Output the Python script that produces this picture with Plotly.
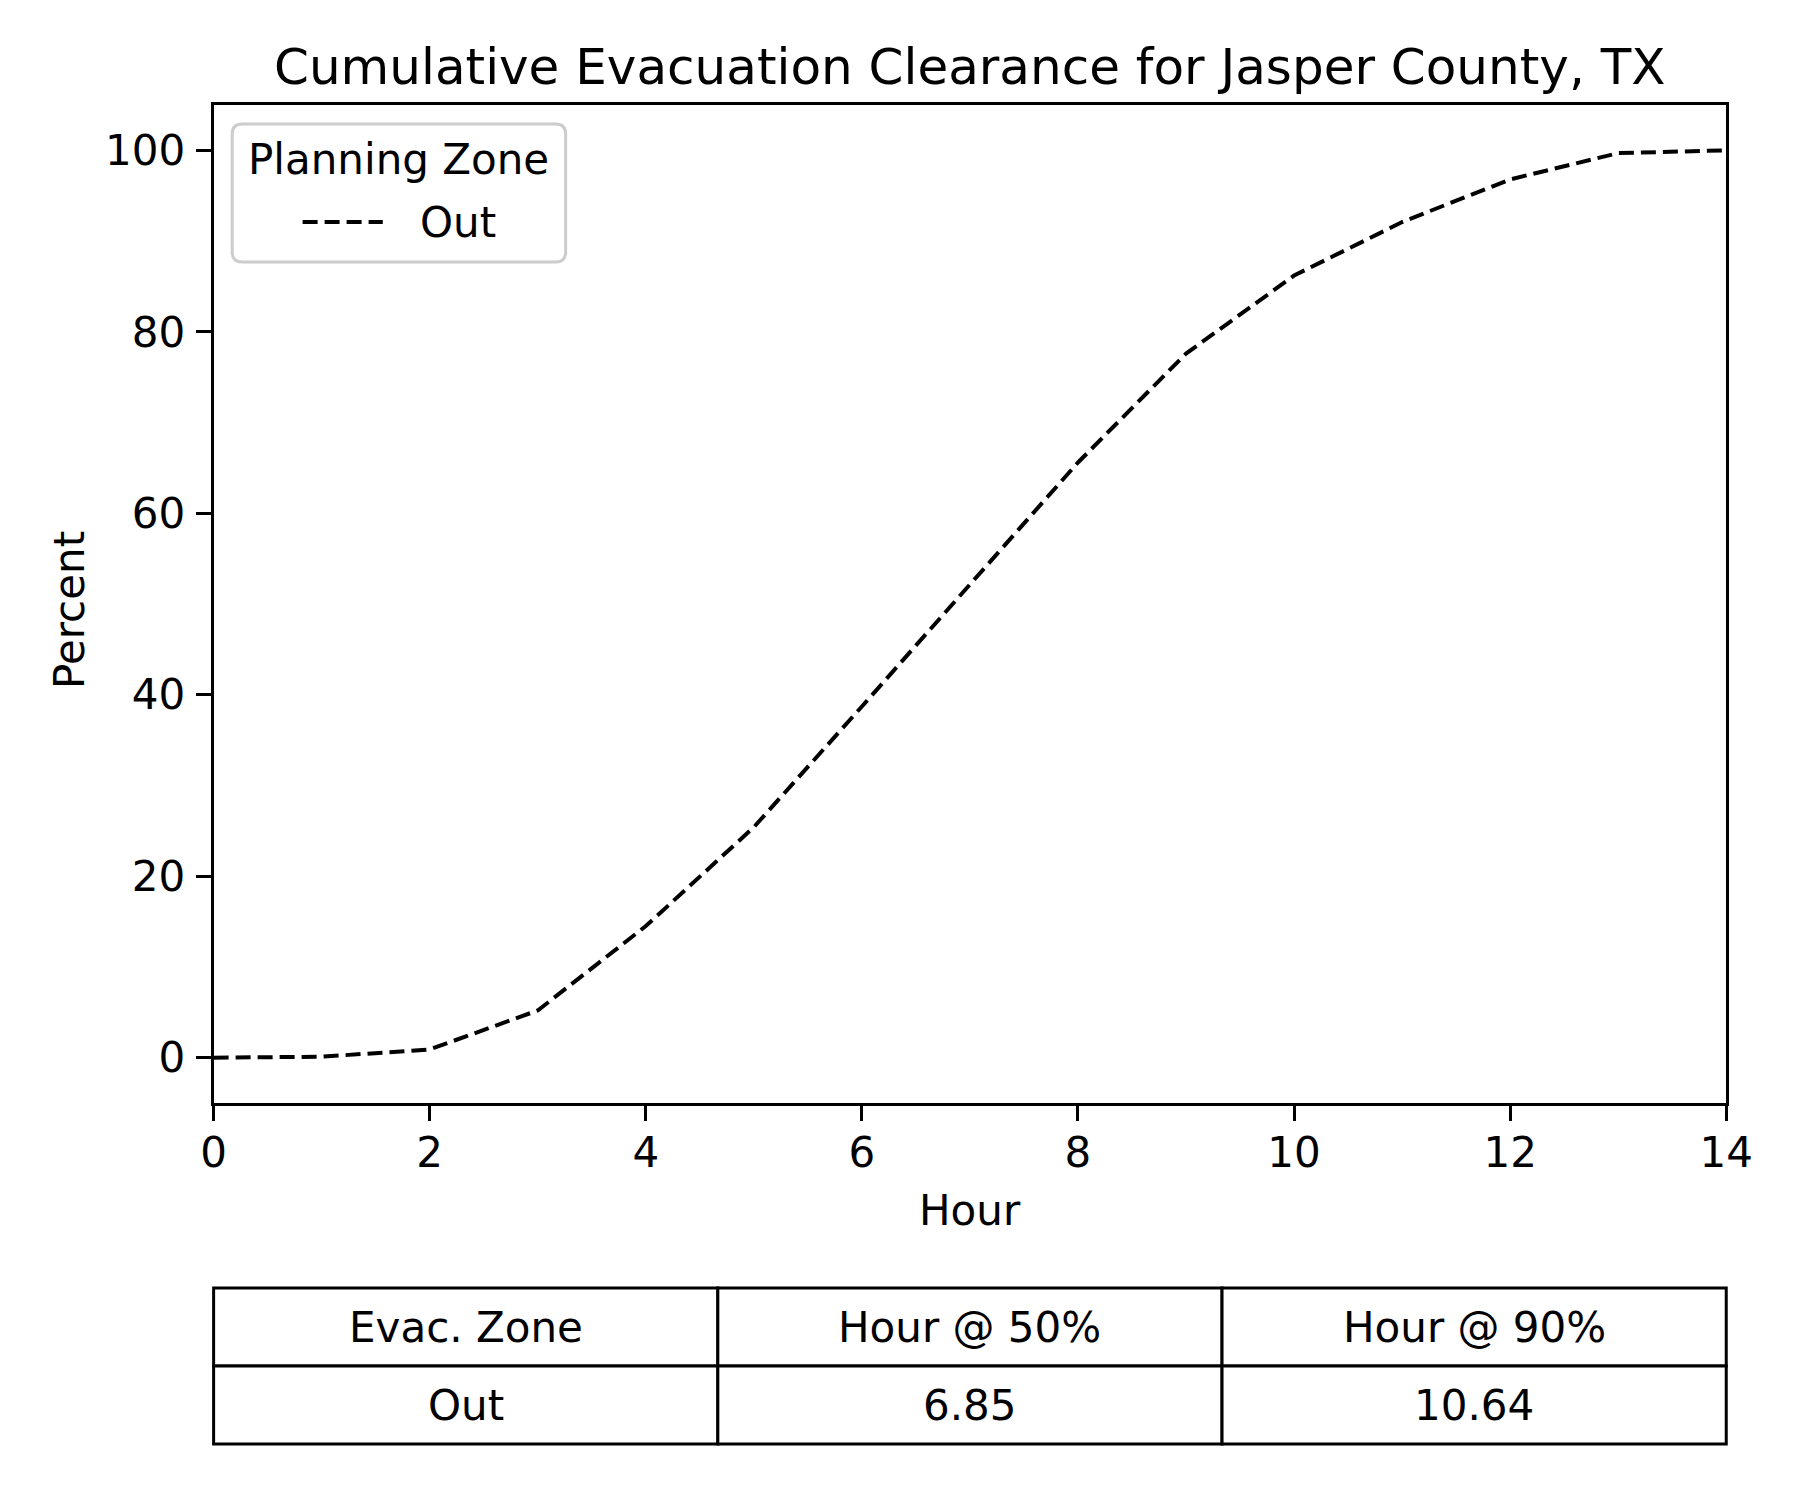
import plotly.graph_objects as go

W, H = 1800, 1500

# ---- data ----
hours = [0, 1, 2, 3, 4, 5, 6, 7, 8, 9, 10, 11, 12, 13, 14]
percent_out = [0, 0.1, 0.9, 5.2, 14.5, 25.4, 38.7, 52.1, 65.6, 77.6, 86.2, 92.1, 96.8, 99.7, 100]
series_name = "Out"
x_ticks = [0, 2, 4, 6, 8, 10, 12, 14]
y_ticks = [0, 20, 40, 60, 80, 100]
table_header = ["Evac. Zone", "Hour @ 50%", "Hour @ 90%"]
table_row = ["Out", "6.85", "10.64"]

title_text = "Cumulative Evacuation Clearance for Jasper County, TX"
FONT = "DejaVu Sans"


def px(x):
    return x / W


def py(y):
    return 1 - y / H


# axes box in pixels
AX_L, AX_R, AX_T, AX_B = 197, 1744, 97, 1095
# table box in pixels
TB_T, ROW_H = 1280, 78

fig = go.Figure()
fig.add_trace(go.Scatter(
    x=hours, y=percent_out, mode="lines", name=series_name,
    line=dict(color="black", width=4, dash="15px,7px"),
    showlegend=False,
))

axis_common = dict(
    showline=True, linecolor="black", linewidth=3, mirror=True,
    ticks="outside", ticklen=15, tickwidth=3, tickcolor="black",
    showgrid=False, zeroline=False,
    tickfont=dict(family=FONT, size=42, color="black"),
)

fig.update_layout(
    width=W, height=H,
    margin=dict(l=0, r=0, t=0, b=0),
    paper_bgcolor="white", plot_bgcolor="white",
    font=dict(family=FONT, color="black"),
    xaxis=dict(domain=[px(AX_L), px(AX_R)], range=[0, 14], tickvals=x_ticks,
               ticklabelstandoff=-4, **axis_common),
    yaxis=dict(domain=[py(AX_B), py(AX_T)], range=[-5, 105], tickvals=y_ticks,
               ticklabelstandoff=2, **axis_common),
    showlegend=False,
)

ann = []
ann.append(dict(text=title_text, x=px((AX_L + AX_R) / 2), y=py(59), xref="paper", yref="paper",
                xanchor="center", yanchor="middle", showarrow=False,
                font=dict(family=FONT, size=50, color="black")))
ann.append(dict(text="Hour", x=px((AX_L + AX_R) / 2), y=py(1202), xref="paper", yref="paper",
                xanchor="center", yanchor="middle", showarrow=False,
                font=dict(family=FONT, size=42, color="black")))
ann.append(dict(text="Percent", x=px(49), y=py(602), xref="paper", yref="paper",
                xanchor="center", yanchor="middle", showarrow=False, textangle=-90,
                font=dict(family=FONT, size=42, color="black")))
# legend
ann.append(dict(text="Planning Zone", x=px(386), y=py(152), xref="paper", yref="paper",
                xanchor="center", yanchor="middle", showarrow=False,
                font=dict(family=FONT, size=42, color="black")))
ann.append(dict(text=series_name, x=px(406), y=py(214), xref="paper", yref="paper",
                xanchor="left", yanchor="middle", showarrow=False,
                font=dict(family=FONT, size=42, color="black")))

shapes = []
# rounded legend frame
L, T, R, B, r = 216, 116, 557, 254, 10
pts = [("M", L + r, T), ("L", R - r, T), ("Q", R, T, R, T + r), ("L", R, B - r),
       ("Q", R, B, R - r, B), ("L", L + r, B), ("Q", L, B, L, B - r), ("L", L, T + r),
       ("Q", L, T, L + r, T)]
path = ""
for p in pts:
    if p[0] == "Q":
        path += f"Q{px(p[1])},{py(p[2])} {px(p[3])},{py(p[4])} "
    else:
        path += f"{p[0]}{px(p[1])},{py(p[2])} "
path += "Z"
shapes.append(dict(type="path", path=path, xref="paper", yref="paper",
                   line=dict(color="#cccccc", width=3), fillcolor="white", layer="above"))
shapes.append(dict(type="line", xref="paper", yref="paper", x0=px(288), x1=px(370),
                   y0=py(214), y1=py(214),
                   line=dict(color="black", width=4, dash="15px,7px"), layer="above"))

# table below the axes (cells + centered text)
rows = [table_header, table_row]
ncol = len(table_header)
col_w = (AX_R - AX_L) / ncol
for ri, row in enumerate(rows):
    y0 = TB_T + ri * ROW_H
    y1 = y0 + ROW_H
    for ci, txt in enumerate(row):
        x0 = AX_L + ci * col_w
        x1 = x0 + col_w
        shapes.append(dict(type="rect", xref="paper", yref="paper",
                           x0=px(x0), x1=px(x1), y0=py(y1), y1=py(y0),
                           line=dict(color="black", width=3), fillcolor="white"))
        ann.append(dict(text=txt, x=px((x0 + x1) / 2), y=py((y0 + y1) / 2),
                        xref="paper", yref="paper", xanchor="center", yanchor="middle",
                        showarrow=False, font=dict(family=FONT, size=42, color="black")))

fig.update_layout(shapes=shapes, annotations=ann)

fig.write_html("out.html")
